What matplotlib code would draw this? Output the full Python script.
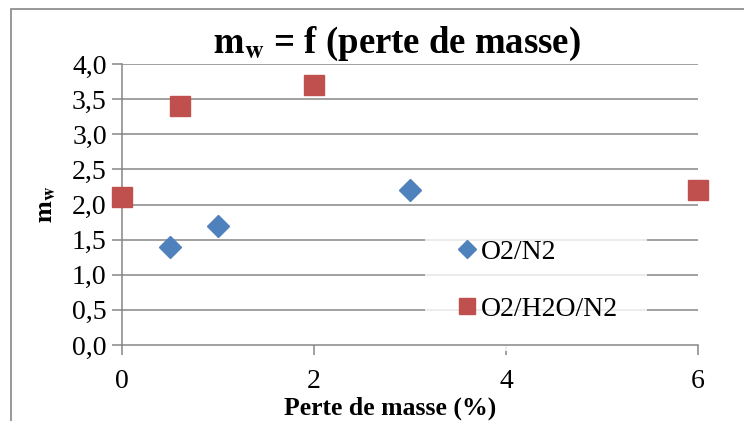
# m_w versus perte de masse, Excel-like scatter
import matplotlib.pyplot as plt
from matplotlib.patches import Rectangle
from matplotlib.ticker import FuncFormatter

plt.rcParams['font.family'] = ['Liberation Serif', 'DejaVu Serif']
plt.rcParams['mathtext.fontset'] = 'stix'

# data
x_o2n2 = [0.5, 1.0, 3.0]
y_o2n2 = [1.4, 1.7, 2.2]
x_o2h2on2 = [0.0, 0.6, 2.0, 6.0]
y_o2h2on2 = [2.1, 3.4, 3.7, 2.2]
labels = ['O2/N2', 'O2/H2O/N2']
x_ticks = [0, 2, 4, 6]
y_ticks = [0.0, 0.5, 1.0, 1.5, 2.0, 2.5, 3.0, 3.5, 4.0]

fig = plt.figure(figsize=(7.44, 4.21), dpi=100)
ax = fig.add_axes([122 / 744, 1 - 345 / 421, 576 / 744, 281 / 421])

grid_col = '#868686'
for y in y_ticks[1:]:
    ax.axhline(y, color=grid_col, lw=1.1, zorder=1)

ax.plot(x_o2n2, y_o2n2, 'D', color='#4F81BD', ms=11, label=labels[0],
        clip_on=False, zorder=3)
ax.plot(x_o2h2on2, y_o2h2on2, 's', color='#C0504D', ms=14, label=labels[1],
        clip_on=False, zorder=3)

ax.set_xlim(0, 6)
ax.set_ylim(0, 4)
ax.set_xticks(x_ticks)
ax.set_yticks(y_ticks)
ax.yaxis.set_major_formatter(FuncFormatter(lambda v, p: f'{v:.1f}'.replace('.', ',')))
ax.tick_params(axis='both', labelsize=20, color=grid_col, width=1.1, length=7)
ax.tick_params(axis='x', pad=10)
ax.tick_params(axis='y', pad=4)

for s in ['top', 'right']:
    ax.spines[s].set_visible(False)
for s in ['left', 'bottom']:
    ax.spines[s].set_color(grid_col)
    ax.spines[s].set_linewidth(1.1)

ax.set_title(r'$\mathbf{m_w}$ = f (perte de masse)', fontsize=26.5,
             fontweight='bold', pad=8, x=0.477)
ax.set_xlabel('Perte de masse (%)', fontsize=18.5, fontweight='bold',
              labelpad=2, x=0.465)
ax.set_ylabel(r'$\mathbf{m_w}$', fontsize=19, labelpad=10)

leg = ax.legend(loc='upper left', bbox_to_anchor=(303 / 576, 0.48), frameon=True,
                fontsize=20, handletextpad=0.05, labelspacing=1.15,
                borderpad=1.05, handlelength=0.9, borderaxespad=0,
                markerscale=0.85)
leg.get_frame().set_facecolor('white')
leg.get_frame().set_edgecolor('none')
leg.get_frame().set_boxstyle('square', pad=0)
leg.set_zorder(2)

# chart area border
fig.patches.append(Rectangle((11 / 744, -0.05), 1.2, 1 - 9 / 421 + 0.05,
                             transform=fig.transFigure, fill=False,
                             edgecolor=grid_col, lw=1.2))

fig.savefig('out.png', dpi=100)
